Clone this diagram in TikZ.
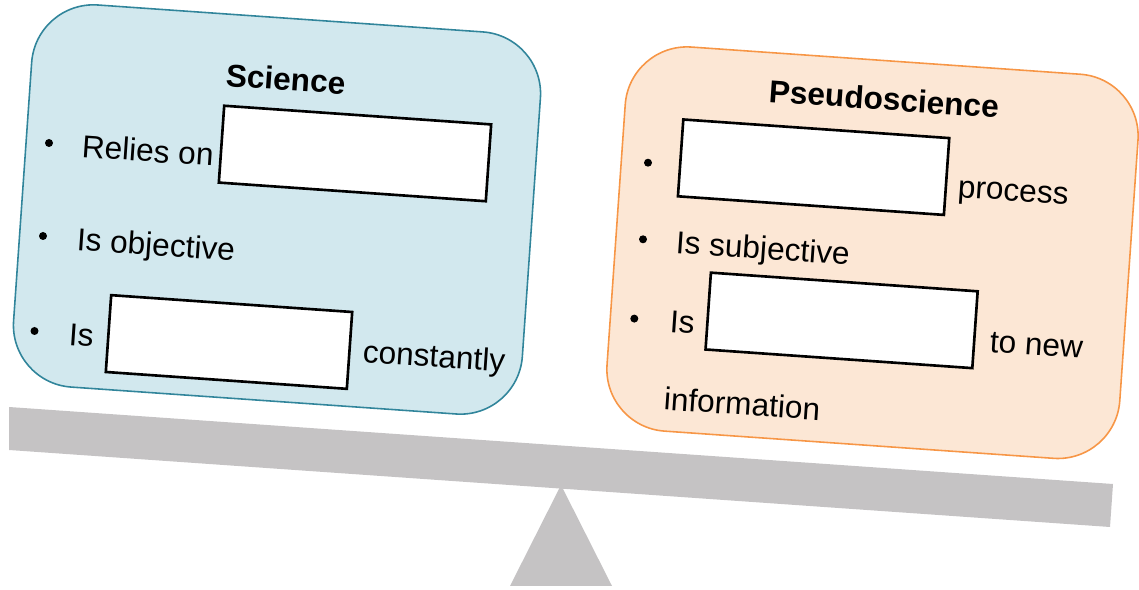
\documentclass[tikz,border=0pt]{standalone}
\usepackage{fontspec}
\setmainfont{Liberation Sans}
\usepackage{xcolor}
\usepackage{tikz}
\usetikzlibrary{shapes.geometric, positioning}

\definecolor{scifill}{RGB}{210,232,238}
\definecolor{sciedge}{RGB}{49,133,155}
\definecolor{pseudofill}{RGB}{252,231,213}
\definecolor{pseudoedge}{RGB}{247,150,70}
\definecolor{seesawgray}{RGB}{197,195,196}

\newlength{\unitpx}
\setlength{\unitpx}{0.02cm}

\tikzstyle{panel} = [rectangle, rounded corners=62\unitpx, rotate=-4, inner sep=0pt, line width=0.9pt]
\tikzstyle{sciencebox} = [panel, draw=sciedge, fill=scifill, minimum width=510\unitpx, minimum height=383\unitpx]
\tikzstyle{pseudobox} = [panel, draw=pseudoedge, fill=pseudofill, minimum width=514\unitpx, minimum height=385\unitpx]
\tikzstyle{blank} = [rectangle, rotate=-4, draw=black, fill=white, line width=1.5pt, inner sep=0pt, minimum height=77\unitpx]
\tikzstyle{txt} = [rotate=-4, anchor=base west, inner sep=0pt, font=\fontsize{18}{22}\selectfont]
\tikzstyle{heading} = [txt, font=\fontsize{18}{22}\selectfont\bfseries]
\tikzstyle{bulletdot} = [circle, fill=black, inner sep=0pt, minimum size=8\unitpx]
\tikzstyle{seesaw} = [fill=seesawgray]

\begin{document}
\begin{tikzpicture}[x=0.02cm, y=-0.02cm]
    \useasboundingbox (0,0) rectangle (1139,590);

    % seesaw
    \fill[seesaw] (9,407) -- (1113,484) -- (1110,527) -- (9,450) -- cycle;
    \fill[seesaw] (510,586) -- (561,485) -- (612,586) -- cycle;

    % left pan
    \node (science) [sciencebox] at (277,209.5) {};
    \node (scititle) [heading] at (225,86) {Science};
    \node (sdot1) [bulletdot] at (49,143) {};
    \node (relies) [txt] at (81,157) {Relies on};
    \node (sblank1) [blank, minimum width=267.6\unitpx] at (355,153.5) {};
    \node (sdot2) [bulletdot] at (43,236) {};
    \node (objective) [txt] at (76,250) {Is objective};
    \node (sdot3) [bulletdot] at (34.5,331) {};
    \node (sis) [txt] at (68,345) {Is};
    \node (sblank2) [blank, minimum width=241.6\unitpx] at (229,342) {};
    \node (constantly) [txt] at (362,362) {constantly};

    % right pan
    \node (pseudo) [pseudobox] at (872.5,252.7) {};
    \node (pstitle) [heading] at (768,102) {Pseudoscience};
    \node (pdot1) [bulletdot] at (648,162.7) {};
    \node (pblank1) [blank, minimum width=266.6\unitpx] at (813.6,167.2) {};
    \node (process) [txt] at (957,197) {process};
    \node (pdot2) [bulletdot] at (643,239.3) {};
    \node (subjective) [txt] at (675,253) {Is subjective};
    \node (pdot3) [bulletdot] at (634.3,318.6) {};
    \node (pis) [txt] at (669,332) {Is};
    \node (pblank2) [blank, minimum width=267.4\unitpx] at (841.6,320.4) {};
    \node (tonew) [txt] at (989,352) {to new};
    \node (information) [txt] at (663,409.5) {information};
\end{tikzpicture}
\end{document}
